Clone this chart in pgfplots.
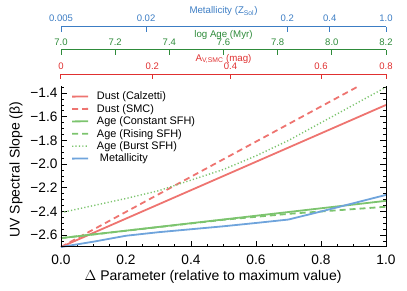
\documentclass[border=0pt]{standalone}
\usepackage{fontspec}
\setmainfont{Liberation Sans}
\usepackage{pgfplots}
\pgfplotsset{compat=1.18}
\definecolor{lred}{HTML}{EE7470}
\definecolor{lgreen}{HTML}{7CC46E}
\definecolor{lblue}{HTML}{6FA4DC}
\definecolor{ablue}{HTML}{3C7DC4}
\definecolor{agreen}{HTML}{2E8B3A}
\definecolor{ared}{HTML}{E03030}
\pgfplotsset{
  toplayer/.style n args={3}{scale only axis, width=325pt, height=1pt, anchor=south west,
    xmin=0, xmax=1, ymin=0, ymax=1, ytick=\empty, axis line style={draw=none},
    xtick pos=upper, xticklabel pos=upper, xtick align=inside, major tick length=5pt,
    clip=false,
    xtick style={color=#1, line width=1pt},
    xticklabel style={color=#1, font=\fontsize{9.5}{11}\selectfont, anchor=base, yshift=#2},
    xlabel style={color=#1, font=\fontsize{9.7}{11}\selectfont, at={(axis description cs:0.5,1)}, anchor=base, yshift=#3}},
}
\begin{document}
\begin{tikzpicture}
\path (0,0) rectangle (407pt,291pt);
% Metallicity axis
\begin{axis}[toplayer={ablue}{5pt}{13.3pt}, at={(61pt,263pt)},
  xtick={0,0.2617,0.6962,0.8270,1}, xticklabels={0.005,0.02,0.2,0.4,1.0},
  xlabel={Metallicity (Z\textsubscript{Sol})}]
  \draw[ablue, line width=1pt] (rel axis cs:0,1) -- (rel axis cs:1,1);
\end{axis}
% Age axis
\begin{axis}[toplayer={agreen}{4pt}{12.5pt}, at={(61pt,240pt)},
  xtick={0,0.16667,0.33333,0.5,0.66667,0.83333,1}, xticklabels={7.0,7.2,7.4,7.6,7.8,8.0,8.2},
  xlabel={log Age (Myr)}]
  \draw[agreen, line width=1pt] (rel axis cs:0,1) -- (rel axis cs:1,1);
\end{axis}
% A_V axis
\begin{axis}[toplayer={ared}{4.3pt}{12.8pt}, at={(61pt,215.7pt)},
  xtick={0,0.281,0.5215,0.80,1}, xticklabels={0,0.2,0.4,0.6,0.8},
  xlabel={A\textsubscript{V,SMC} (mag)}]
  \draw[ared, line width=1pt] (rel axis cs:0,1) -- (rel axis cs:1,1);
\end{axis}
% main axis
\begin{axis}[at={(61pt,44pt)}, anchor=south west, scale only axis, width=325pt, height=161pt,
  xmin=0, xmax=1, ymin=-2.7, ymax=-1.34, clip=false,
  axis line style={draw=none},
  xtick={0,0.2,0.4,0.6,0.8,1}, xticklabels={0.0,0.2,0.4,0.6,0.8,1.0},
  minor xtick={0.05,0.1,0.15,0.25,0.3,0.35,0.45,0.5,0.55,0.65,0.7,0.75,0.85,0.9,0.95},
  ytick={-2.6,-2.4,-2.2,-2.0,-1.8,-1.6,-1.4},
  yticklabels={−2.6,−2.4,−2.2,−2.0,−1.8,−1.6,−1.4},
  minor ytick={-2.65,-2.55,-2.5,-2.45,-2.35,-2.3,-2.25,-2.15,-2.1,-2.05,-1.95,-1.9,-1.85,-1.75,-1.7,-1.65,-1.55,-1.5,-1.45,-1.35},
  xtick pos=bottom, ytick pos=both, tick align=inside,
  major tick length=6pt, minor tick length=3pt,
  every tick/.style={black, line width=0.8pt},
  tick label style={font=\fontsize{13.7}{16}\selectfont},
  xticklabel style={yshift=-4.5pt},
  label style={font=\fontsize{14}{16}\selectfont},
  xlabel={$\Delta$ Parameter (relative to maximum value)},
  xlabel style={at={(axis description cs:0.468,-0.185)}, anchor=center},
  ylabel={UV Spectral Slope (β)},
  ylabel style={at={(axis description cs:-0.1385,0.48)}, anchor=center},
  legend style={at={(rel axis cs:0.0215,0.983)}, anchor=north west, draw=none, fill=none,
    font=\fontsize{10.9}{12}\selectfont, cells={anchor=west}, row sep=1.0pt,
    nodes={inner sep=1pt, text depth=0.15em}},
  legend image code/.code={\draw[#1] (0pt,0pt) -- (16pt,0.15pt); \path (0pt,0pt) (23pt,0pt);},
]
\addplot[color=lred, line width=1.8pt] coordinates {(0,-2.70) (1,-1.50)};
\addlegendentry{Dust (Calzetti)}
\addplot[color=lred, line width=1.8pt, dash pattern=on 6pt off 4pt] coordinates {(0,-2.70) (0.91,-1.35)};
\addlegendentry{Dust (SMC)}
\addplot[color=lgreen, line width=1.8pt] coordinates {(0,-2.625) (1,-2.31)};
\addlegendentry{Age (Constant SFH)}
\addplot[color=lgreen, line width=1.8pt, dash pattern=on 6pt off 4pt] coordinates {(0,-2.625) (0.5,-2.47) (0.6,-2.445) (0.7,-2.42) (0.8,-2.40) (0.9,-2.38) (1,-2.36)};
\addlegendentry{Age (Rising SFH)}
\addplot[color=lgreen, line width=1.4pt, dash pattern=on 1.2pt off 2.2pt] coordinates {(0,-2.41) (0.1,-2.35) (0.2,-2.29) (0.3,-2.225) (0.4,-2.135) (0.5,-2.045) (0.6,-1.93) (0.7,-1.80) (0.8,-1.65) (0.9,-1.50) (1,-1.35)};
\addlegendentry{Age (Burst SFH)}
\addplot[color=lblue, line width=1.8pt] coordinates {(0,-2.70) (0.1,-2.655) (0.2,-2.605) (0.3,-2.575) (0.4,-2.55) (0.5,-2.525) (0.6,-2.497) (0.7,-2.468) (0.8,-2.40) (0.9,-2.33) (1,-2.26)};
\addlegendentry{\hspace{3pt}Metallicity}
\draw[black, line width=1pt] (rel axis cs:0,1) |- (rel axis cs:1,0) -- (rel axis cs:1,1);
\end{axis}
\end{tikzpicture}
\end{document}
